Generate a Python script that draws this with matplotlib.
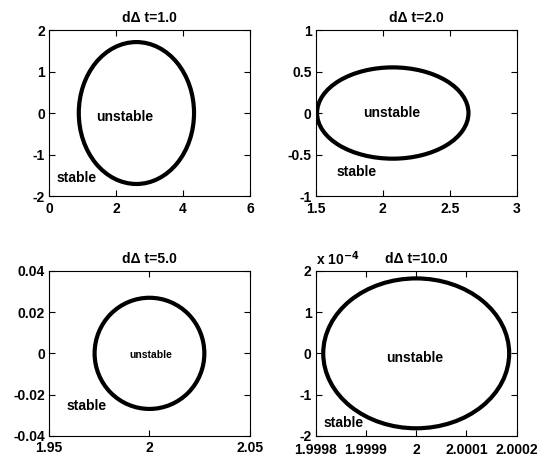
import matplotlib.pyplot as plt
from matplotlib.patches import Ellipse
from matplotlib.ticker import FuncFormatter

plt.rcParams['font.family'] = ['Liberation Sans', 'DejaVu Sans']
plt.rcParams['font.weight'] = 'bold'
plt.rcParams['font.size'] = 10

titles = ['d\u0394 t=1.0', 'd\u0394 t=2.0', 'd\u0394 t=5.0', 'd\u0394 t=10.0']

# boundary ellipse per step: centre x, centre y, half width, half height
centerX = [2.61, 2.075, 2.0, 2.0]
centerY = [0.0, 0.0, 0.0, 0.0]
halfW = [1.72, 0.565, 0.0273, 0.000185]
halfH = [1.71, 0.55, 0.027, 0.000182]

xLims = [(0, 6), (1.5, 3), (1.95, 2.05), (1.9998, 2.0002)]
yLims = [(-2, 2), (-1, 1), (-0.04, 0.04), (-2e-4, 2e-4)]
xTicks = [[0, 2, 4, 6], [1.5, 2, 2.5, 3], [1.95, 2, 2.05],
          [1.9998, 1.9999, 2, 2.0001, 2.0002]]
yTicks = [[-2, -1, 0, 1, 2], [-1, -0.5, 0, 0.5, 1],
          [-0.04, -0.02, 0, 0.02, 0.04], [-2e-4, -1e-4, 0, 1e-4, 2e-4]]
yScale = [1, 1, 1, 1e-4]

# label positions (data coords)
unstablePos = [(1.42, -0.1), (1.855, 0.0), (1.99, -0.001), (1.99994, -0.12e-4)]
stablePos = [(0.23, -1.57), (1.657, -0.707), (1.9585, -0.0254), (1.999815, -1.68e-4)]
unstableSize = [10, 10, 7.5, 10]
xPad = [4, 4, 4, 5.5]

fig = plt.figure(figsize=(5.37, 4.58), dpi=100)
axPos = [[0.0912, 0.572, 0.3743, 0.3624],
         [0.5879, 0.572, 0.3743, 0.3624],
         [0.0912, 0.0487, 0.3743, 0.3596],
         [0.5879, 0.0487, 0.3743, 0.3596]]

for i in range(4):
    ax = fig.add_axes(axPos[i])
    ax.add_patch(Ellipse((centerX[i], centerY[i]), 2 * halfW[i], 2 * halfH[i],
                         fill=False, edgecolor='black', linewidth=3))
    ax.set_xlim(*xLims[i])
    ax.set_ylim(*yLims[i])
    ax.set_xticks(xTicks[i])
    ax.set_yticks(yTicks[i])
    ax.xaxis.set_major_formatter(FuncFormatter(lambda v, p: '%g' % v))
    s = yScale[i]
    ax.yaxis.set_major_formatter(FuncFormatter(lambda v, p, s=s: '%g' % (v / s)))
    ax.tick_params(direction='in', top=True, right=True, length=4, width=0.8,
                   labelsize=10)
    ax.tick_params(axis='x', pad=xPad[i])
    ax.tick_params(axis='y', pad=3)
    for lab in ax.get_xticklabels() + ax.get_yticklabels():
        lab.set_fontweight('bold')
    for sp in ax.spines.values():
        sp.set_linewidth(0.8)
    ax.set_title(titles[i], fontsize=10, fontweight='bold', pad=6)
    ax.text(unstablePos[i][0], unstablePos[i][1], 'unstable', fontsize=unstableSize[i],
            fontweight='bold', va='center', ha='left')
    ax.text(stablePos[i][0], stablePos[i][1], 'stable', fontsize=10,
            fontweight='bold', va='center', ha='left')
    if i == 3:
        ax.text(0.0, 1.02, 'x 10$^{\\mathbf{-4}}$', transform=ax.transAxes,
                fontsize=10, fontweight='bold', ha='left', va='bottom')

plt.savefig('out.png', dpi=100)
